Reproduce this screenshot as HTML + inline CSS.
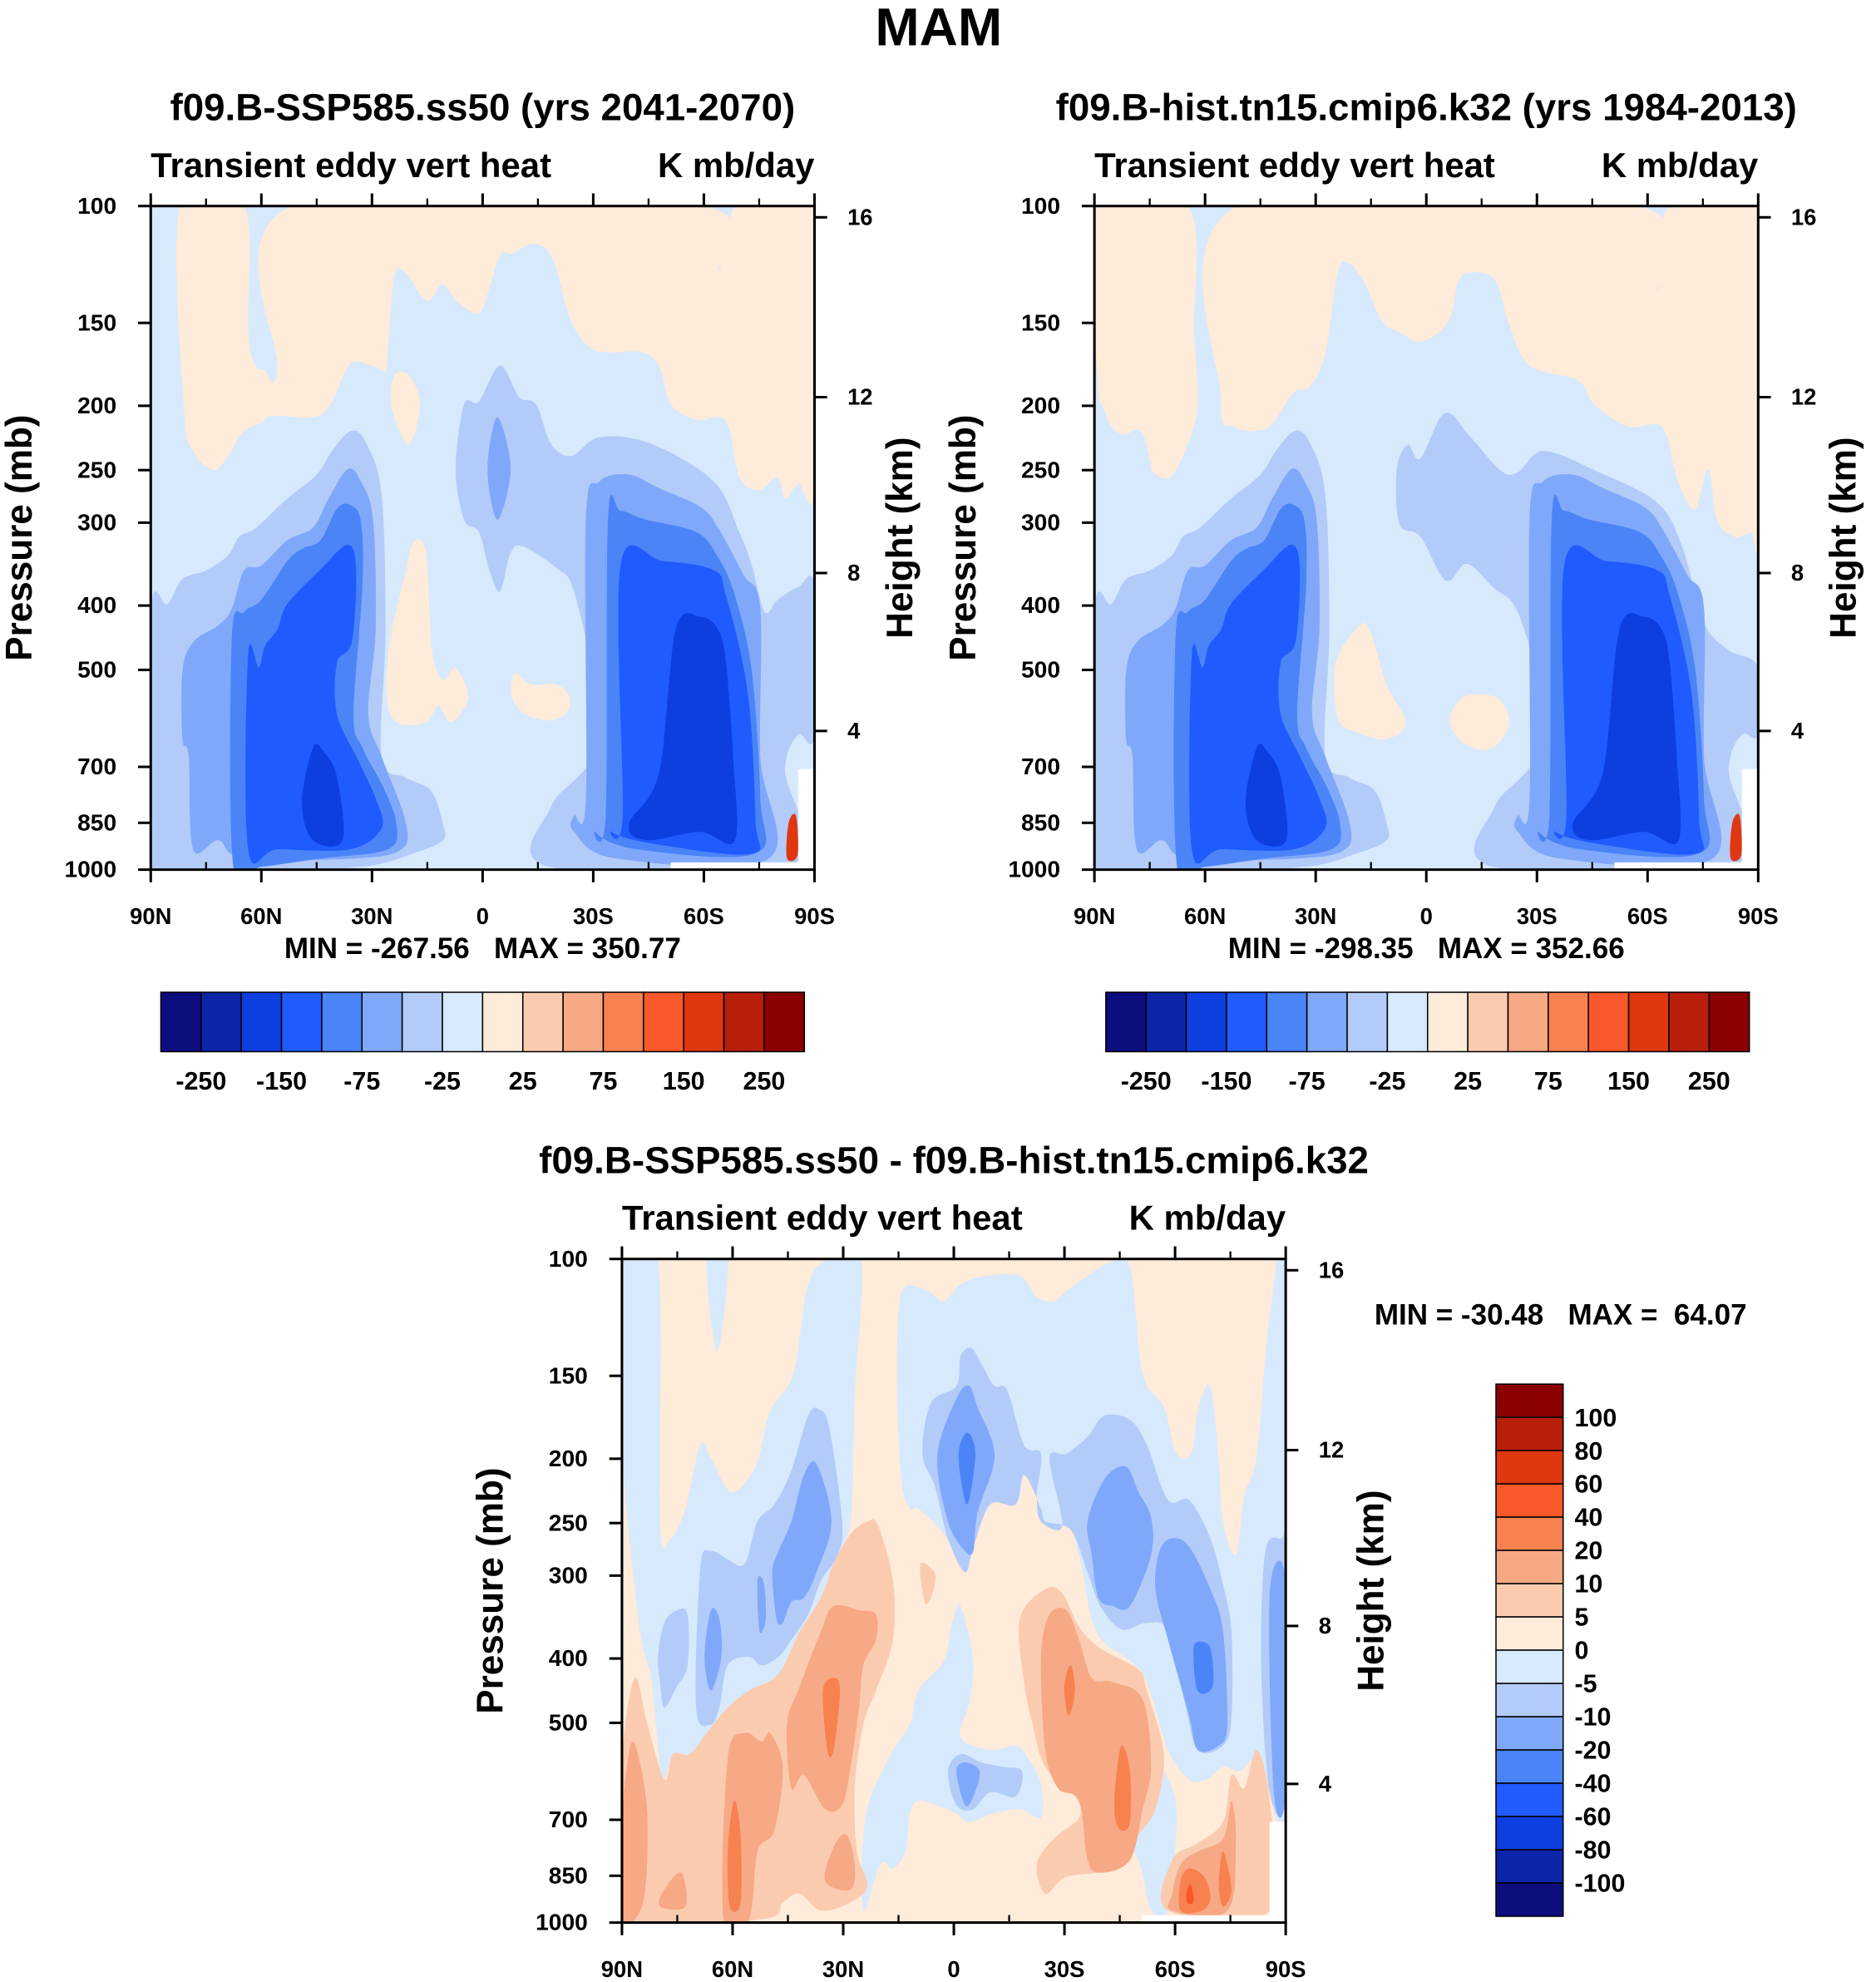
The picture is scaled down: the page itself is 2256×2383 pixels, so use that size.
<!DOCTYPE html>
<html><head><meta charset="utf-8">
<style>
html,body{margin:0;padding:0;background:#fff;}
svg{display:block;font-family:"Liberation Sans",Arial,sans-serif;font-weight:bold;}
text{white-space:pre;}
</style></head>
<body>
<svg id="fig" width="2256" height="2383" viewBox="0 0 1481 1568" preserveAspectRatio="none" xmlns="http://www.w3.org/2000/svg">
<text x="741" y="36" text-anchor="middle" font-size="42">MAM</text>
</svg>
<script>
// ---------- data ----------
const colors=['#0d0d80','#0b24a8','#0c3ee0','#1f5bff','#4a84f7','#80a8fa','#b3cbf9','#d7e9fc','#feebd9','#fbcbb0','#f7a884','#f7814f','#f9582a','#e0370f','#b81f0a','#8b0000'];
const pressureTicks=[100,150,200,250,300,400,500,700,850,1000];
const heightTicks=[16,12,8,4];
const heightTickY=[0.017,0.288,0.553,0.791];
const latTicks=[90,60,30,0,-30,-60,-90];
const latMinor=[75,45,15,-15,-45,-75];
const latLabels=['90N','60N','30N','0','30S','60S','90S'];
const topLevels=['-250','-150','-75','-25','25','75','150','250'];
const diffLevels=['100','80','60','40','20','10','5','0','-5','-10','-20','-40','-60','-80','-100'];

const missingRegion=[[-85.6,705],[-90,705],[-90,1000],[-51,1000],[-51,975],[-85.6,975]];
const commonBlue=[
 [6,[[90,409],[85.4,398],[81.4,365],[75,354],[69,336],[66,315],[61.3,305],[53,276],[45,254],[40.6,233],[35.5,218],[31.5,228],[27.4,272],[26.3,434],[27.4,675],[21,726],[14,760],[10.8,852],[10.8,903],[18.8,945],[32.6,990],[60,1000],[90,1000]]],
 [5,[[81.4,636],[81.4,503],[78.5,454],[71.6,428],[68,404],[64.7,354],[60,348],[53,319],[46,305],[41.8,276],[36.6,249],[33,260],[29.7,297],[29,434],[31,583],[27.4,675],[21,842],[22,932],[35,962],[64.7,962],[71.6,903],[78.5,932],[79.7,675]]],
 [4,[[67.6,990],[68,447],[64.7,409],[60,392],[53,343],[48.7,328],[44,319],[39.5,286],[36,282],[33,299],[32.6,375],[35,583],[32.6,655],[27,750],[23.4,852],[25.7,932],[44,962],[60,990]]],
 [3,[[63.6,932],[63.6,474],[60.7,496],[59,460],[55.6,434],[53,398],[44,353],[36.6,324],[34.3,353],[35.5,454],[39.5,488],[39.5,583],[33.7,685],[29,781],[27.4,866],[36,932],[55.6,932]]],
 [2,[[49,792],[46,655],[43,665],[39.5,726],[38,903],[46,903]]],
 [5,[[-28,781],[-28,297],[-31.7,260],[-39.7,254],[-47.8,266],[-59,284],[-63.8,305],[-70.7,359],[-75.3,403],[-75.3,675],[-77.6,962],[-36.3,962],[-24.8,877],[-24.8,828]]],
 [4,[[-33.4,828],[-34,297],[-37.4,288],[-44.3,297],[-58,310],[-63.8,338],[-68.4,386],[-73,503],[-75.3,781],[-74,946],[-42,932],[-30.5,877]]],
 [3,[[-38,828],[-37.4,348],[-49,343],[-62.7,354],[-66,386],[-71.9,541],[-74,842],[-73,946],[-47.8,917],[-35,877]]],
 [2,[[-39.7,852],[-47.8,716],[-52.4,434],[-59,416],[-63.8,434],[-66,488],[-67.9,675],[-68.4,903],[-59,877],[-44.3,903]]],
 [13,[[-83,850],[-85,830],[-85.4,950],[-82.5,960]]]
];
const fieldTopA=[
 [8,[[82,100],[81,202],[78.5,234],[73,250],[69,238],[65,219],[60,212],[57,207],[46,208],[41,198],[36,173],[30,174],[27,177],[26,174],[24,128],[21,126],[15,139],[11,131],[7,139],[1,145],[-2,132],[-5,118],[-8,118],[-14,114],[-19,120],[-24,149],[-30.5,165],[-43,166],[-48,175],[-51,199],[-58,210],[-66,211],[-69.6,256],[-75,268],[-80,256],[-82,276],[-85.6,262],[-90,264],[-90,100],[-69,100],[-68.4,111],[-65.5,109],[-64,125],[-59,100],[51.5,100],[55.6,177],[59,177],[62,172],[63.6,153],[64.7,100]]],
 [8,[[24,180],[20,180],[17,199],[20,229],[24.6,202]]],
 [8,[[18.8,321],[15.4,333],[13.7,467],[10.8,518],[7.3,496],[4,550],[8.5,600],[12,566],[15.4,600],[23.4,600],[26,541],[25,447],[21,359]]],
 [8,[[-8.7,506],[-13.3,526],[-20,526],[-23.7,550],[-22.5,583],[-18,596],[-11.6,583],[-8,550]]],
 [6,[[7.3,249],[5,199],[1,197],[-4.7,174],[-9.9,194],[-14.5,199],[-18.5,228],[-24,238],[-31.7,223],[-45.5,228],[-62.7,260],[-69.6,310],[-73,348],[-76.5,409],[-80,392],[-85.6,375],[-90,375],[-90,626],[-85.6,626],[-82,705],[-83,990],[-18,990],[-18.5,804],[-29,685],[-30.5,541],[-24.8,381],[-20,351],[-11,326],[-7.6,333],[-4.7,381],[-1.8,353],[1,310],[5,297]]],
 [5,[[-4,208],[-7.6,249],[-4,297],[-1.3,249]]]
].concat(commonBlue);
const fieldTopB=[
 [8,[[90,100],[89,185],[87.7,200],[85.4,215],[82,221],[77.4,218],[75,241],[74,252],[69.3,256],[64.7,228],[62,199],[63,155],[64.7,100]]],
 [8,[[51,100],[55.6,197],[52,215],[46,218],[41.8,213],[36,191],[31.5,187],[27.4,167],[24,126],[21,122],[17,130],[12,149],[7.3,155],[1,160],[-6,149],[-8.7,130],[-12,126],[-18.5,129],[-22.5,151],[-28,174],[-41,183],[-45.5,199],[-54.6,215],[-63.8,215],[-67.3,249],[-69.6,271],[-73,286],[-76.5,249],[-78.8,297],[-83.4,315],[-88,310],[-90,305],[-90,100],[-66,100],[-62.7,134],[-57,100]]],
 [8,[[18,428],[15,441],[10.8,526],[5.6,600],[10.8,636],[18.8,621],[24,591],[24.6,488]]],
 [8,[[-9.9,550],[-19,550],[-22.5,600],[-18,655],[-11,650],[-6.4,600]]],
 [6,[[8,249],[5,229],[1.6,240],[-5,205],[-12,223],[-20,250],[-24.8,252],[-31.7,234],[-45.5,250],[-62.7,280],[-69.6,329],[-75.3,425],[-82,467],[-90,496],[-90,626],[-85.6,626],[-82,705],[-83,990],[-18,990],[-18.5,804],[-29,685],[-30.5,541],[-24.8,409],[-18,375],[-11,346],[-5.3,367],[1.6,315],[7.3,301]]]
].concat(commonBlue);
// difference field: points on the 1568x1568 analysis grid (column, log-pressure row)
const diffGrid=[
 [7,[[0,0],[85,0],[90,620],[115,660],[150,590],[185,440],[210,470],[250,545],[280,540],[320,480],[350,360],[405,270],[440,60],[490,0],[565,0],[550,320],[540,620],[500,720],[470,800],[420,880],[370,980],[300,1020],[250,1060],[200,1120],[160,1170],[120,1170],[95,1230],[70,1000],[40,860],[0,440]]],
 [7,[[200,0],[250,0],[225,220]]],
 [7,[[660,80],[720,75],[760,100],[800,60],[860,40],[940,40],[980,90],[1020,100],[1050,75],[1100,40],[1150,10],[1200,20],[1230,270],[1280,350],[1310,460],[1345,460],[1360,360],[1390,300],[1410,480],[1420,620],[1450,700],[1470,560],[1500,460],[1530,135],[1568,0],[1568,1260],[1530,1260],[1500,1180],[1460,1210],[1420,1200],[1380,1230],[1340,1230],[1290,1160],[1240,1000],[1200,950],[1120,880],[1080,700],[1060,640],[1000,620],[990,590],[970,520],[950,510],[930,580],[870,580],[830,680],[810,740],[760,650],[700,590],[680,590],[660,520],[650,300]]],
 [7,[[570,1540],[575,1320],[630,1180],[680,1100],[700,1020],[760,950],[780,860],[800,820],[830,950],[820,1050],[800,1130],[870,1160],[930,1150],[960,1180],[990,1240],[990,1320],[940,1300],[880,1310],[820,1330],[790,1310],[740,1290],[700,1280],[680,1310],[670,1400],[640,1440],[610,1430]]],
 [7,[[1250,1540],[1220,1420],[1160,1330],[1100,1250],[1060,1170],[1150,1190],[1260,1200],[1300,1250],[1310,1340],[1290,1540]]],
 [6,[[85,940],[100,860],[130,830],[155,840],[155,960],[130,1010],[100,1060],[90,1000]]],
 [6,[[175,1060],[185,730],[210,690],[250,710],[290,720],[320,620],[360,580],[400,500],[440,370],[465,355],[490,400],[520,620],[510,700],[470,760],[440,840],[400,900],[370,940],[330,960],[300,940],[250,960],[230,1060],[210,1100]]],
 [6,[[710,460],[730,340],[790,300],[800,230],[825,210],[850,250],[880,300],[910,310],[950,440],[990,460],[980,560],[990,620],[1040,630],[1010,470],[1050,460],[1100,420],[1140,370],[1200,380],[1240,440],[1290,570],[1340,570],[1390,660],[1420,770],[1440,880],[1440,1080],[1420,1150],[1360,1160],[1330,1050],[1290,880],[1240,860],[1180,875],[1130,820],[1100,740],[1060,640],[1000,620],[990,590],[950,510],[930,580],[870,580],[830,680],[810,740],[770,660],[740,540]]],
 [6,[[770,1210],[800,1170],[850,1190],[900,1200],[945,1210],[930,1270],[870,1260],[830,1300],[790,1290]]],
 [6,[[1520,690],[1560,660],[1568,660],[1568,1260],[1530,1260],[1510,960]]],
 [5,[[355,740],[370,690],[400,620],[430,510],[460,485],[495,620],[460,740],[430,800],[400,810],[380,860],[365,850]]],
 [5,[[195,940],[210,830],[230,850],[235,940],[210,1020]]],
 [5,[[320,760],[335,765],[340,850],[325,880]]],
 [5,[[745,465],[790,330],[820,300],[840,350],[880,465],[840,600],[830,690],[810,690],[770,620]]],
 [5,[[1100,620],[1140,520],[1190,490],[1220,550],[1250,610],[1250,700],[1200,820],[1160,820],[1125,800],[1110,700]]],
 [5,[[1260,780],[1270,690],[1300,660],[1340,680],[1390,780],[1420,880],[1430,1100],[1410,1150],[1360,1160],[1340,1080],[1290,900]]],
 [5,[[1530,790],[1568,760],[1568,1260],[1540,1260]]],
 [5,[[790,1210],[810,1190],[845,1210],[830,1270],[810,1290]]],
 [4,[[795,465],[815,410],[835,460],[815,580]]],
 [4,[[1350,930],[1360,905],[1390,920],[1395,1010],[1360,1020]]],
 [9,[[0,1190],[30,990],[60,1100],[100,1230],[120,1170],[160,1170],[200,1120],[250,1060],[300,1020],[370,980],[420,880],[470,800],[500,720],[540,650],[580,620],[605,630],[640,760],[640,900],[600,1020],[570,1100],[550,1250],[555,1400],[580,1480],[540,1520],[470,1540],[420,1500],[380,1520],[330,1560],[0,1560]]],
 [9,[[940,850],[1000,780],[1040,790],[1080,870],[1130,920],[1220,970],[1240,1020],[1280,1170],[1260,1300],[1220,1360],[1160,1440],[1050,1460],[1000,1500],[980,1430],[1020,1370],[1080,1320],[1070,1270],[1000,1200],[970,1100],[950,1000]]],
 [9,[[1290,1540],[1300,1420],[1360,1380],[1420,1330],[1440,1220],[1470,1250],[1500,1160],[1530,1280],[1530,1540]]],
 [9,[[705,720],[740,745],[730,800],[715,810]]],
 [10,[[0,1330],[20,1150],[40,1180],[60,1320],[50,1520],[0,1560]]],
 [10,[[240,1560],[250,1180],[290,1120],[330,1140],[350,1120],[380,1200],[360,1350],[320,1400],[300,1560]]],
 [10,[[390,1100],[420,1010],[470,880],[500,820],[560,830],[600,840],[600,900],[570,960],[560,1060],[540,1200],[520,1290],[480,1300],[430,1220],[400,1250]]],
 [10,[[480,1470],[500,1390],[530,1360],[550,1430],[540,1490]]],
 [10,[[90,1530],[100,1490],[140,1450],[150,1530]]],
 [10,[[990,940],[1010,840],[1050,830],[1080,900],[1110,990],[1160,1000],[1230,1040],[1250,1200],[1230,1300],[1200,1420],[1130,1450],[1100,1420],[1080,1280],[1030,1250],[1000,1160]]],
 [10,[[1300,1500],[1320,1430],[1360,1400],[1420,1370],[1440,1280],[1450,1380],[1430,1540],[1300,1540]]],
 [11,[[250,1400],[265,1280],[280,1360],[280,1520],[255,1530]]],
 [11,[[475,1020],[500,990],[515,1020],[500,1160],[485,1160]]],
 [11,[[1045,1010],[1060,960],[1070,1020],[1055,1080]]],
 [11,[[1165,1250],[1180,1150],[1200,1210],[1200,1330],[1180,1350],[1165,1320]]],
 [11,[[1320,1470],[1340,1440],[1375,1460],[1390,1510],[1370,1540],[1320,1540]]],
 [11,[[1410,1480],[1420,1400],[1440,1490],[1420,1530]]],
 [12,[[1335,1490],[1345,1480],[1350,1520],[1335,1520]]]
];
const fieldDiff=diffGrid.map(([c,pts])=>[c,pts.map(([gx,gy])=>[90-gx*180/1568,100*Math.pow(10,gy/1568)])]);

// ---------- drawing ----------
const NS='http://www.w3.org/2000/svg';
const svg=document.getElementById('fig');
function mk(tag,attrs,parent){const e=document.createElementNS(NS,tag);for(const k in attrs)e.setAttribute(k,attrs[k]);(parent||svg).appendChild(e);return e;}
function txt(s,attrs,parent){const e=mk('text',attrs,parent);e.textContent=s;return e;}
function smoothPath(P){
  const n=P.length;let d=`M${P[0][0].toFixed(1)},${P[0][1].toFixed(1)}`;
  for(let i=0;i<n;i++){
    const p0=P[(i-1+n)%n],p1=P[i],p2=P[(i+1)%n],p3=P[(i+2)%n];
    const c1=[p1[0]+(p2[0]-p0[0])/6,p1[1]+(p2[1]-p0[1])/6];
    const c2=[p2[0]-(p3[0]-p1[0])/6,p2[1]-(p3[1]-p1[1])/6];
    d+=`C${c1[0].toFixed(1)},${c1[1].toFixed(1)} ${c2[0].toFixed(1)},${c2[1].toFixed(1)} ${p2[0].toFixed(1)},${p2[1].toFixed(1)}`;
  }
  return d+'Z';
}
function panel(px,py,title,field,minmax,name,bgColor){
  const W=524,H=525;
  const g=mk('g',{});
  
  
  const xS=lat=>px+(90-lat)/180*W;
  const yS=p=>py+(Math.log10(p)-2)*H;
  const clip='clip-'+name;
  const cp=mk('clipPath',{id:clip},g);mk('rect',{x:px,y:py,width:W,height:H},cp);
  const bg=mk('rect',{x:px,y:py,width:W,height:H,fill:colors[bgColor]},g);
  
  
  const fg=mk('g',{'clip-path':'url(#'+clip+')'},g);
  field.forEach(([ci,pts])=>{
    const P=pts.map(([la,p])=>[xS(la),yS(p)]);
    const e=mk('path',{d:smoothPath(P),fill:colors[ci]},fg);
    
    
  });
  const miss=mk('path',{d:'M'+missingRegion.map(([la,p])=>xS(la)+','+yS(p)).join('L')+'Z',fill:'#fff'},fg);
  
  
  const fr=mk('rect',{x:px,y:py,width:W,height:H,fill:'none',stroke:'#000','stroke-width':2},g);
  
  
  pressureTicks.forEach(p=>{const y=yS(p);
    mk('line',{x1:px-10,x2:px,y1:y,y2:y,stroke:'#000','stroke-width':2},g);
    const t=txt(String(p),{x:px-27,y:y+6,'font-size':18.5,'text-anchor':'end'},g);
    
    });
  heightTicks.forEach((h,i)=>{const y=py+heightTickY[i]*H;
    mk('line',{x1:px+W,x2:px+W+10,y1:y,y2:y,stroke:'#000','stroke-width':2},g);
    const t=txt(String(h),{x:px+W+26,y:y+6,'font-size':18},g);
    
    });
  latTicks.forEach((la,i)=>{const x=xS(la);
    mk('line',{x1:x,x2:x,y1:py,y2:py-10,stroke:'#000','stroke-width':2},g);
    mk('line',{x1:x,x2:x,y1:py+H,y2:py+H+10,stroke:'#000','stroke-width':2},g);
    const t=txt(latLabels[i],{x:x,y:py+H+43,'font-size':18,'text-anchor':'middle'},g);
    
    });
  latMinor.forEach(la=>{const x=xS(la);
    mk('line',{x1:x,x2:x,y1:py,y2:py-6,stroke:'#000','stroke-width':1.5},g);
    mk('line',{x1:x,x2:x,y1:py+H,y2:py+H-6,stroke:'#000','stroke-width':1.5},g);});
  let t=txt('Pressure (mb)',{x:0,y:0,'font-size':29,'text-anchor':'middle',transform:`translate(${px-94},${py+H/2}) rotate(-90)`},g);
  
  t=txt('Height (km)',{x:0,y:0,'font-size':29,'text-anchor':'middle',transform:`translate(${px+W+77},${py+H/2}) rotate(-90)`},g);
  
  t=txt('Transient eddy vert heat',{x:px,y:py-23,'font-size':27.5},g);
  
  t=txt('K mb/day',{x:px+W,y:py-23,'font-size':27.5,'text-anchor':'end'},g);
  
  t=txt(title,{x:px+W/2,y:py-68,'font-size':30,'text-anchor':'middle'},g);
  
  if(minmax){t=txt(minmax,{x:px+W/2,y:py+H+70,'font-size':23,'text-anchor':'middle'},g);
    }
  return g;
}
function hbar(x,y,name){
  const g=mk('g',{});
  
  
  const w=508/16;
  colors.forEach((c,i)=>{const r=mk('rect',{x:x+i*w,y:y,width:w,height:47,fill:c,stroke:'#000','stroke-width':1},g);
    });
  topLevels.forEach((l,i)=>{const t=txt(l,{x:x+(1+2*i)*w,y:y+77,'font-size':20,'text-anchor':'middle'},g);
    });
}
function vbar(x,y){
  const g=mk('g',{});
  
  
  const h=421/16;
  colors.slice().reverse().forEach((c,i)=>{const r=mk('rect',{x:x,y:y+i*h,width:53,height:h,fill:c,stroke:'#000','stroke-width':1},g);
    });
  diffLevels.forEach((l,i)=>{const t=txt(l,{x:x+62,y:y+(i+1)*h+7,'font-size':20},g);
    });
}
panel(119,163,'f09.B-SSP585.ss50 (yrs 2041-2070)',fieldTopA,'MIN = -267.56   MAX = 350.77','ssp585-panel',7);
panel(864,163,'f09.B-hist.tn15.cmip6.k32 (yrs 1984-2013)',fieldTopB,'MIN = -298.35   MAX = 352.66','hist-panel',7);
hbar(127,785,'ssp585-colorbar');
hbar(873,785,'hist-colorbar');
panel(491,996,'f09.B-SSP585.ss50 - f09.B-hist.tn15.cmip6.k32',fieldDiff,null,'difference-panel',8);
const mm=txt('MIN = -30.48   MAX =  64.07',{x:1232,y:1048,'font-size':23,'text-anchor':'middle'});


vbar(1181,1095);
</script>
</body></html>
